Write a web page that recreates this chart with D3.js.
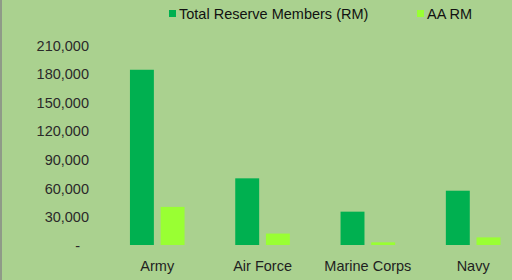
<!DOCTYPE html>
<html>
<head>
<meta charset="utf-8">
<script src="https://cdn.jsdelivr.net/npm/d3@7"></script>
<style>
body { margin: 0; background: #aad18f; }
svg { display: block; font-family: "Liberation Sans", Arial, sans-serif; }
</style>
</head>
<body>
<svg id="viz" width="512" height="280"></svg>
<script>
// data
var categories = ["Army", "Air Force", "Marine Corps", "Navy"];
var seriesNames = ["Total Reserve Members (RM)", "AA RM"];
var totalRM = [184000, 70000, 35000, 57000];
var aaRM = [40000, 12000, 2800, 8000];
var yTicks = [0, 30000, 60000, 90000, 120000, 150000, 180000, 210000];

var colors = ["#00b050", "#99ff33"];

var svg = d3.select("#viz");

// background + left edge
svg.append("rect").attr("width", 512).attr("height", 280).attr("fill", "#aad18f");
svg.append("rect").attr("x", 0).attr("y", 0).attr("width", 2).attr("height", 280).attr("fill", "#8f9a88");

var y = d3.scaleLinear().domain([0, 210000]).range([245, 45]);
var x0 = d3.scaleBand().domain(categories).range([104.6, 525.8]).padding(0);
var groupW = 54.6;
var x1 = d3.scaleBand().domain(seriesNames).range([0, groupW]).paddingInner(0.22).paddingOuter(0);

var rows = categories.map(function(c, i) {
    return { cat: c, vals: [totalRM[i], aaRM[i]] };
});

// y axis labels (no line, no ticks)
var fmt = d3.format(",");
var yAxis = d3.axisLeft(y).tickValues(yTicks).tickSize(0).tickPadding(0)
    .tickFormat(function(d) { return d === 0 ? "-" : fmt(d); });
var ya = svg.append("g").attr("transform", "translate(89,0)").call(yAxis);
ya.select(".domain").remove();
ya.selectAll("text")
    .attr("font-size", "14.5px")
    .attr("font-family", "Liberation Sans, Arial, sans-serif")
    .attr("fill", "#2a2a2a")
    .attr("dy", "0.36em");
ya.selectAll(".tick").filter(function(d) { return d === 0; })
    .select("text").attr("x", -9);

// bars
var groups = svg.selectAll(".grp").data(rows).enter().append("g")
    .attr("class", "grp")
    .attr("transform", function(d) {
        return "translate(" + (x0(d.cat) + (x0.bandwidth() - groupW) / 2) + ",0)";
    });

groups.selectAll("rect")
    .data(function(d) { return d.vals.map(function(v, i) { return { key: seriesNames[i], v: v, i: i }; }); })
    .enter().append("rect")
    .attr("x", function(d) { return x1(d.key); })
    .attr("y", function(d) { return y(d.v); })
    .attr("width", x1.bandwidth())
    .attr("height", function(d) { return y(0) - y(d.v); })
    .attr("fill", function(d) { return colors[d.i]; });

// x axis labels
var xAxis = d3.axisBottom(x0).tickSize(0).tickPadding(0);
var xa = svg.append("g").attr("transform", "translate(0,261)").call(xAxis);
xa.select(".domain").remove();
xa.selectAll("text")
    .attr("font-size", "14.5px")
    .attr("font-family", "Liberation Sans, Arial, sans-serif")
    .attr("fill", "#1f1f1f")
    .attr("dy", "0.71em");

// legend
var legX = [169, 417];
var legend = svg.selectAll(".legend").data(seriesNames).enter().append("g")
    .attr("class", "legend")
    .attr("transform", function(d, i) { return "translate(" + legX[i] + ",0)"; });
legend.append("rect")
    .attr("x", 0).attr("y", 10)
    .attr("width", 7).attr("height", 7)
    .attr("fill", function(d, i) { return colors[i]; });
legend.append("text")
    .attr("x", 10).attr("y", 14)
    .attr("dy", "0.36em")
    .attr("font-size", "14.5px")
    .attr("fill", "#111")
    .text(function(d) { return d; });
</script>
</body>
</html>
